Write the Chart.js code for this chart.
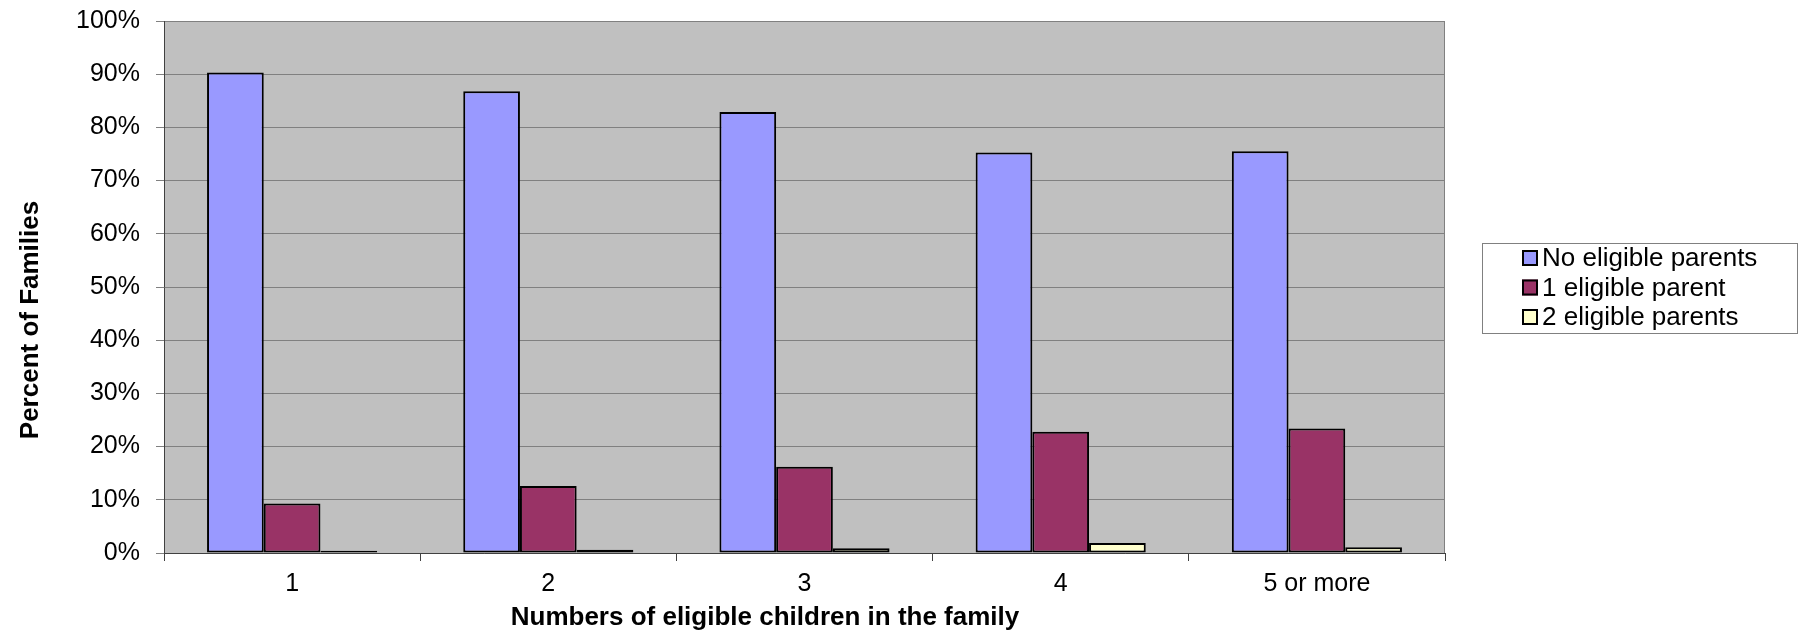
<!DOCTYPE html>
<html>
<head>
<meta charset="utf-8">
<script src="https://cdn.jsdelivr.net/npm/chart.js@4/dist/chart.umd.min.js"></script>
<style>
  html, body { margin: 0; padding: 0; background: #fff; }
  #wrap { width: 1802px; height: 634px; position: relative; }
</style>
</head>
<body>
<div id="wrap"><canvas id="myChart"></canvas></div>
<script>
var categories = ['1', '2', '3', '4', '5 or more'];
var seriesNames = ['No eligible parents', '1 eligible parent', '2 eligible parents'];
var noParents = [90.3, 86.8, 82.9, 75.3, 75.5];
var oneParent = [9.3, 12.6, 16.2, 22.8, 23.4];
var twoParents = [0.4, 0.6, 0.9, 1.9, 1.1];
var yTicks = [0, 10, 20, 30, 40, 50, 60, 70, 80, 90, 100];
var xTitle = 'Numbers of eligible children in the family';
var yTitle = 'Percent of Families';

var FONT = "'Liberation Sans', Arial, sans-serif";

// grey plot area, drawn under the grid
var plotBackground = {
  id: 'plotBackground',
  beforeDraw: function(chart) {
    var a = chart.chartArea, c = chart.ctx;
    c.save();
    c.fillStyle = '#C0C0C0';
    c.fillRect(a.left, a.top, a.right - a.left, a.bottom - a.top);
    c.restore();
  },
  beforeDatasetsDraw: function(chart) {
    var a = chart.chartArea, c = chart.ctx;
    c.save();
    c.strokeStyle = '#808080';
    c.lineWidth = 1;
    c.beginPath();
    c.moveTo(Math.round(a.right) - 0.5, a.top);
    c.lineTo(Math.round(a.right) - 0.5, a.bottom);
    c.stroke();
    c.restore();
  }
};

// axis titles sit a bit off centre in the original, so draw them here
var axisTitles = {
  id: 'axisTitles',
  afterDraw: function(chart) {
    var c = chart.ctx;
    c.save();
    c.fillStyle = '#000';
    c.font = 'bold 26px ' + FONT;
    c.textAlign = 'center';
    c.textBaseline = 'middle';
    c.fillText(xTitle, 765, 618);
    c.translate(31, 320);
    c.rotate(-Math.PI / 2);
    c.fillText(yTitle, 0, 0);
    c.restore();
  }
};

// boxed legend on the right
var boxLegend = {
  id: 'boxLegend',
  afterDraw: function(chart) {
    var c = chart.ctx;
    var sets = chart.data.datasets;
    c.save();
    c.strokeStyle = '#808080';
    c.lineWidth = 1;
    c.strokeRect(1482.5, 243.5, 315, 90);
    c.font = '26px ' + FONT;
    c.textAlign = 'left';
    c.textBaseline = 'middle';
    for (var i = 0; i < sets.length; i++) {
      var y = 258 + i * 29.5;
      c.fillStyle = sets[i].backgroundColor;
      c.fillRect(1522, y - 8, 16, 16);
      c.strokeStyle = '#000';
      c.lineWidth = 2;
      c.strokeRect(1523, y - 7, 14, 14);
      c.fillStyle = '#000';
      c.fillText(sets[i].label, 1542, y + 1);
    }
    c.restore();
  }
};

var ctx = document.getElementById('myChart').getContext('2d');
var myChart = new Chart(ctx, {
  type: 'bar',
  data: {
    labels: categories,
    datasets: [
      { label: seriesNames[0], data: noParents, backgroundColor: '#9999FF' },
      { label: seriesNames[1], data: oneParent, backgroundColor: '#993366' },
      { label: seriesNames[2], data: twoParents, backgroundColor: '#FFFFCC' }
    ]
  },
  options: {
    responsive: true,
    maintainAspectRatio: false,
    animation: false,
    layout: { padding: { top: 21, right: 357, left: 0, bottom: 0 } },
    datasets: {
      bar: {
        borderColor: '#000',
        borderWidth: 2,
        borderSkipped: false,
        categoryPercentage: 0.664,
        barPercentage: 1
      }
    },
    plugins: {
      legend: { display: false },
      tooltip: { enabled: false }
    },
    scales: {
      x: {
        grid: { offset: true, drawOnChartArea: false, drawTicks: true, tickLength: 8, color: '#404040' },
        border: { color: '#404040', width: 1 },
        ticks: { color: '#000', font: { family: FONT, size: 25 }, padding: 8, maxRotation: 0 },
        afterFit: function(scale) {
          scale.height = 81;
          scale.paddingLeft = 0;
          scale.paddingRight = 0;
        }
      },
      y: {
        min: 0,
        max: 100,
        afterBuildTicks: function(scale) {
          scale.ticks = yTicks.map(function(v) { return { value: v }; });
        },
        grid: { color: '#808080', tickLength: 8, lineWidth: 1 },
        border: { color: '#404040', width: 1 },
        ticks: {
          color: '#000',
          font: { family: FONT, size: 25 },
          padding: 16,
          callback: function(value) { return value + '%'; }
        },
        afterFit: function(scale) {
          scale.width = 164;
          scale.paddingTop = 0;
          scale.paddingBottom = 0;
        }
      }
    }
  },
  plugins: [plotBackground, axisTitles, boxLegend]
});
</script>
</body>
</html>
